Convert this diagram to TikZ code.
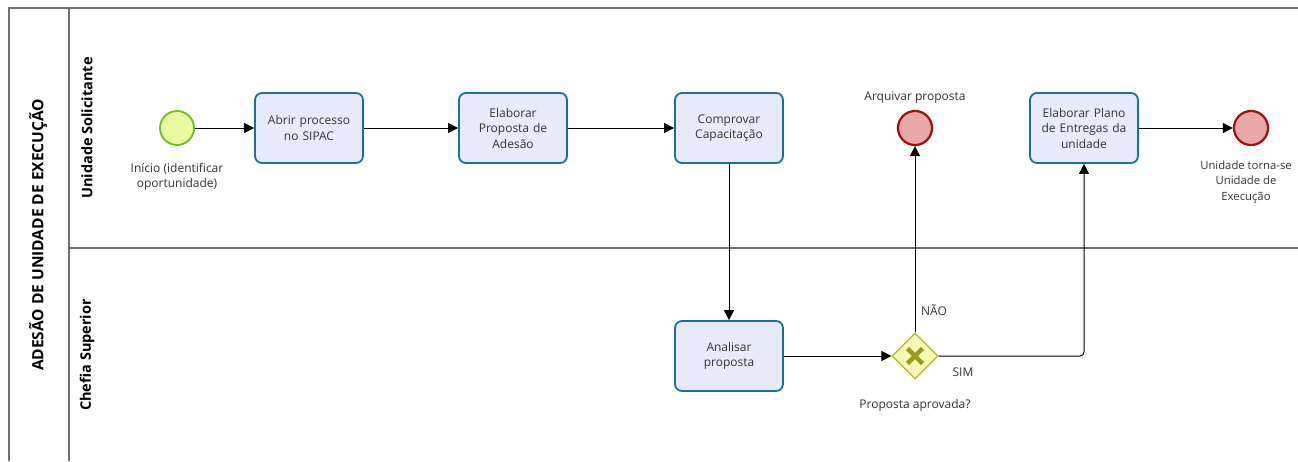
\documentclass[tikz,border=0pt]{standalone}
\usepackage{fontspec}
\setmainfont{Open Sans}
\usetikzlibrary{arrows.meta,shapes.geometric,calc}
\definecolor{pool}{HTML}{6E6E6E}
\definecolor{taskfill}{HTML}{E9EBFC}
\definecolor{taskline}{HTML}{16719C}
\definecolor{startfill}{HTML}{E8FBA0}
\definecolor{startline}{HTML}{6DBE1E}
\definecolor{endfill}{HTML}{E8A8A8}
\definecolor{endline}{HTML}{A50E0E}
\definecolor{gwfill}{HTML}{F8F8B8}
\definecolor{gwline}{HTML}{B4B42A}
\definecolor{gwmark}{HTML}{9A9A1E}
\definecolor{txt}{HTML}{333333}
\tikzset{
  x=1pt,y=-1pt,
  every node/.style={font=\fontsize{12}{15.5}\selectfont, text=txt},
  task/.style={draw=taskline, fill=taskfill, line width=1.8pt, rounded corners=7pt,
    minimum width=108pt, minimum height=70pt, align=center, text width=100pt},
  startev/.style={circle, draw=startline, fill=startfill, line width=1.8pt, minimum size=34pt, inner sep=0},
  endev/.style={circle, draw=endline, fill=endfill, line width=2.2pt, minimum size=34pt, inner sep=0},
  gw/.style={diamond, draw=gwline, fill=gwfill, line width=1.2pt, minimum size=46pt, inner sep=0},
  flow/.style={draw=black, line width=1pt, -{Triangle[length=10pt,width=10pt]}},
  lbl/.style={align=center},
  poolline/.style={draw=pool, line width=1.5pt},
  lanetitle/.style={font=\fontsize{14.5}{16}\selectfont\bfseries, text=black, rotate=90},
}
\begin{document}
\begin{tikzpicture}
\useasboundingbox (0,0) rectangle (1298,461);
\fill[white] (0,0) rectangle (1298,461);
% pool
\draw[poolline] (9,461) -- (9,8) -- (1298,8);
\draw[poolline] (69,8) -- (69,461);
\draw[poolline] (69,248) -- (1298,248);
\node[lanetitle, font=\fontsize{15.5}{17}\selectfont\bfseries] (pooltitle) at (38,235) {ADESÃO DE UNIDADE DE EXECUÇÃO};
\node[lanetitle] (lane1) at (87,128) {Unidade Solicitante};
\node[lanetitle] (lane2) at (87,355) {Chefia Superior};
% nodes
\node[startev] (start) at (177,128) {};
\node[lbl] (startlbl) at (177,177) {Início (identificar\\oportunidade)};
\node[task] (t1) at (309,128) {Abrir processo\\no SIPAC};
\node[task] (t2) at (513,128) {Elaborar\\Proposta de\\Adesão};
\node[task] (t3) at (729,128) {Comprovar\\Capacitação};
\node[endev] (arq) at (915,128) {};
\node[lbl] (arqlbl) at (915,98) {Arquivar proposta};
\node[task] (t4) at (1084,128) {Elaborar Plano\\de Entregas da\\unidade};
\node[endev] (fim) at (1251,128) {};
\node[lbl, font=\fontsize{11.3}{15.5}\selectfont] (fimlbl) at (1246,182) {Unidade torna-se\\Unidade de\\Execução};
\node[task] (t5) at (729,356) {Analisar\\proposta};
\node[gw] (gw) at (915,356) {};
\draw[gwmark, line width=4.5pt] ($(gw)+(-7.5,-7.5)$) -- ($(gw)+(7.5,7.5)$) ($(gw)+(-7.5,7.5)$) -- ($(gw)+(7.5,-7.5)$);
\node[lbl] (gwlbl) at (915,405) {Proposta aprovada?};
% flows
\draw[flow] (start) -- (t1);
\draw[flow] (t1) -- (t2);
\draw[flow] (t2) -- (t3);
\draw[flow] (t3) -- (t5);
\draw[flow] (t5) -- (gw);
\draw[flow] (gw.north) -- (arq);
\node[lbl] (nao) at (934,310) {NÃO};
\draw[flow, rounded corners=4pt] (gw.east) -- (t4.south |- gw.east) -- (t4.south);
\node[lbl] (sim) at (963,372) {SIM};
\draw[flow] (t4) -- (fim);
\end{tikzpicture}
\end{document}
